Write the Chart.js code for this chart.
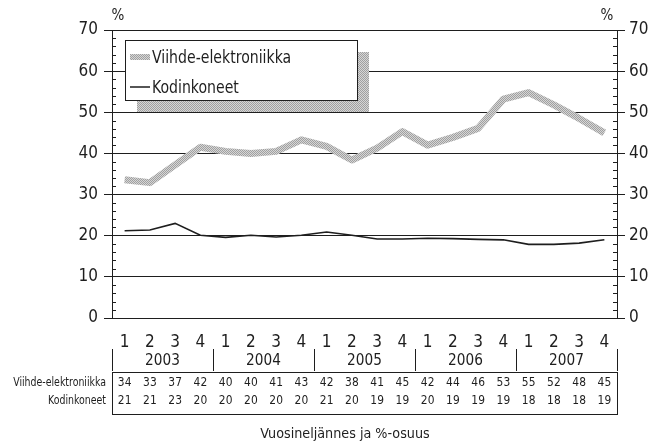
<!DOCTYPE html>
<html>
<head>
<meta charset="utf-8">
<script src="https://cdn.jsdelivr.net/npm/chart.js@4.4.1/dist/chart.umd.min.js"></script>
<style>
  html, body { margin: 0; padding: 0; background: #fff; }
  #wrap { width: 657px; height: 442px; }
</style>
</head>
<body>
<div id="wrap"><canvas id="chart" width="657" height="442"></canvas></div>
<script>
// quarters 2003-2007
const quarters = ['1','2','3','4','1','2','3','4','1','2','3','4','1','2','3','4','1','2','3','4'];
const years = ['2003', '2004', '2005', '2006', '2007'];
const seriesNames = ['Viihde-elektroniikka', 'Kodinkoneet'];

// plotted values
const viihde = [33.6, 32.9, 37.2, 41.5, 40.5, 40.0, 40.5, 43.3, 41.7, 38.4, 41.3, 45.3, 42.0, 43.9, 46.1, 53.2, 54.8, 51.8, 48.5, 45.0];
const kodin = [21.2, 21.4, 23.0, 20.1, 19.6, 20.1, 19.7, 20.1, 20.9, 20.1, 19.2, 19.2, 19.4, 19.3, 19.1, 19.0, 17.9, 17.9, 18.2, 19.0];

// table rows under the chart
const viihdeTable = [34, 33, 37, 42, 40, 40, 41, 43, 42, 38, 41, 45, 42, 44, 46, 53, 55, 52, 48, 45];
const kodinTable = [21, 21, 23, 20, 20, 20, 20, 20, 21, 20, 19, 19, 20, 19, 19, 19, 18, 18, 18, 19];

const xTitle = 'Vuosineljännes ja %-osuus';
const FONT = '"Liberation Sans Narrow", "DejaVu Sans Condensed", "Open Sans", sans-serif';
const INK = '#1e1e1e';

// dotted grey fill used for the thick line, legend shadow
function makePattern() {
  const c = document.createElement('canvas');
  c.width = 2; c.height = 2;
  const g = c.getContext('2d');
  g.fillStyle = '#d6d6d6'; g.fillRect(0, 0, 2, 2);
  g.fillStyle = '#a0a0a0'; g.fillRect(0, 0, 1, 1); g.fillRect(1, 1, 1, 1);
  return g.createPattern(c, 'repeat');
}
const grey = makePattern();

// text squeezed sideways, the original uses a narrow face
function narrowText(ctx, text, x, y, align, sx) {
  ctx.save();
  ctx.translate(x, y);
  ctx.scale(sx, 1);
  ctx.textAlign = align;
  ctx.fillText(text, 0, 0);
  ctx.restore();
}

const extras = {
  id: 'extras',
  afterDraw(chart) {
    const ctx = chart.ctx;
    const x = chart.scales.x, y = chart.scales.y;
    const ca = chart.chartArea;
    const step = x.getPixelForValue(1) - x.getPixelForValue(0);
    ctx.save();
    ctx.strokeStyle = INK;
    ctx.fillStyle = INK;
    ctx.lineWidth = 1;

    // minor ticks every 2 units, inside the plot
    ctx.beginPath();
    for (let v = 2; v < 70; v += 2) {
      if (v % 10 === 0) continue;
      const py = Math.round(y.getPixelForValue(v)) + 0.5;
      ctx.moveTo(ca.left, py); ctx.lineTo(ca.left + 4, py);
      ctx.moveTo(ca.right, py); ctx.lineTo(ca.right - 4, py);
    }
    ctx.stroke();

    // % units
    ctx.font = '15px ' + FONT;
    ctx.textBaseline = 'middle';
    ctx.textAlign = 'center';
    ctx.fillText('%', ca.left + 6, 16);
    ctx.fillText('%', ca.right - 10, 16);

    // year row with separators
    ctx.font = '16px ' + FONT;
    ctx.beginPath();
    for (let i = 0; i <= years.length; i++) {
      const px = Math.round(x.getPixelForValue(i * 4) - step / 2) + 0.5;
      ctx.moveTo(px, 349); ctx.lineTo(px, 371);
    }
    ctx.stroke();
    years.forEach((yr, i) => {
      const cx = (x.getPixelForValue(i * 4 + 1) + x.getPixelForValue(i * 4 + 2)) / 2;
      narrowText(ctx, yr, cx, 361, 'center', 0.95);
    });

    // data table
    ctx.strokeRect(Math.round(ca.left) + 0.5, 372.5, Math.round(ca.right - ca.left), 42);
    ctx.font = '12.5px ' + FONT;
    [viihdeTable, kodinTable].forEach((row, r) => {
      const ty = r === 0 ? 383 : 401;
      row.forEach((v, i) => narrowText(ctx, String(v), x.getPixelForValue(i), ty, 'center', 0.95));
    });
    ctx.font = '12px ' + FONT;
    narrowText(ctx, seriesNames[0], ca.left - 6, 383, 'right', 0.87);
    narrowText(ctx, seriesNames[1], ca.left - 6, 401, 'right', 0.87);

    // axis title
    ctx.font = '14.5px ' + FONT;
    narrowText(ctx, xTitle, 345, 434, 'center', 0.98);

    // legend box with shadow
    ctx.fillStyle = grey;
    ctx.fillRect(137, 52, 232, 60);
    ctx.fillStyle = '#fff';
    ctx.fillRect(125, 40, 232, 60);
    ctx.strokeStyle = INK;
    ctx.strokeRect(125.5, 40.5, 232, 60);
    ctx.strokeStyle = grey;
    ctx.lineWidth = 6;
    ctx.beginPath(); ctx.moveTo(130, 57); ctx.lineTo(150, 57); ctx.stroke();
    ctx.strokeStyle = INK;
    ctx.lineWidth = 1.5;
    ctx.beginPath(); ctx.moveTo(130, 87); ctx.lineTo(150, 87); ctx.stroke();
    ctx.fillStyle = INK;
    ctx.font = '18px ' + FONT;
    narrowText(ctx, seriesNames[0], 152, 58, 'left', 0.87);
    narrowText(ctx, seriesNames[1], 152, 88, 'left', 0.87);
    ctx.restore();
  }
};

new Chart(document.getElementById('chart'), {
  type: 'line',
  data: {
    labels: quarters,
    datasets: [{
      label: seriesNames[0],
      data: viihde,
      borderColor: grey,
      borderWidth: 7,
      pointRadius: 0,
      tension: 0,
      borderJoinStyle: 'round'
    }, {
      label: seriesNames[1],
      data: kodin,
      borderColor: INK,
      borderWidth: 1.6,
      pointRadius: 0,
      tension: 0
    }]
  },
  options: {
    responsive: false,
    animation: false,
    layout: { padding: { left: 0, right: 0, top: 30, bottom: 0 } },
    plugins: { legend: { display: false }, tooltip: { enabled: false } },
    scales: {
      x: {
        offset: true,
        grid: { display: false, drawTicks: false },
        border: { display: false },
        ticks: { color: INK, font: { family: FONT, size: 17 }, padding: 14, maxRotation: 0, autoSkip: false },
        afterFit(s) { s.height = 124; }
      },
      y: {
        position: 'left',
        min: 0, max: 70,
        ticks: { stepSize: 10, color: INK, font: { family: FONT, size: 17 }, padding: 6 },
        grid: { color: INK, lineWidth: 1, tickLength: 8 },
        border: { color: INK },
        afterFit(s) { s.width = 112; }
      },
      y2: {
        position: 'right',
        min: 0, max: 70,
        ticks: { stepSize: 10, color: INK, font: { family: FONT, size: 17 }, padding: 4 },
        grid: { drawOnChartArea: false, color: INK, tickLength: 8 },
        border: { color: INK },
        afterFit(s) { s.width = 40; }
      }
    }
  },
  plugins: [extras]
});
</script>
</body>
</html>
